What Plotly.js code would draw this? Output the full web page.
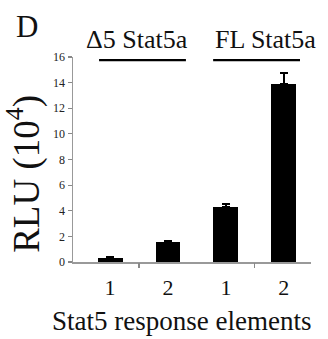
<!DOCTYPE html>
<html><head><meta charset="utf-8">
<script src="https://cdn.plot.ly/plotly-3.0.1.min.js"></script>
<style>html,body{margin:0;padding:0;background:#fff}#chart{width:328px;height:339px}</style>
</head><body><div id="chart"></div>
<script>
// Data
const positions = [0, 1, 2, 3];
const tickLabels = ['1', '2', '1', '2'];
const rluValues = [0.35, 1.55, 4.33, 13.88];
const rluErrors = [0.03, 0.1, 0.2, 0.86];
const groupLabels = ['\u03945 Stat5a', 'FL Stat5a'];
const yTicks = [0, 2, 4, 6, 8, 10, 12, 14, 16];

const serif = 'Liberation Serif';
const trace = {
  type: 'bar', x: positions, y: rluValues, width: 0.43,
  marker: {color: '#000', line: {color: '#000', width: 0}},
  error_y: {type: 'data', array: rluErrors, arrayminus: rluErrors.map(() => 0),
            symmetric: false, color: '#000', thickness: 1.5, width: 4},
  hoverinfo: 'none'
};
const boundary = {type: 'scatter', x: [0.5, 2.5], y: [0, 0], xaxis: 'x2', mode: 'markers',
                  marker: {opacity: 0}, hoverinfo: 'none', showlegend: false};
const layout = {
  width: 328, height: 339,
  font: {family: serif},
  margin: {l: 73, r: 17, t: 57, b: 77},
  paper_bgcolor: '#fff', plot_bgcolor: '#fff',
  showlegend: false,
  bargap: 0,
  xaxis: {range: [-0.64, 3.47], tickvals: positions, ticktext: tickLabels,
          ticks: '', showgrid: false, zeroline: false, showline: true,
          linecolor: '#999', linewidth: 1.5,
          tickfont: {family: serif, size: 22, color: '#111'}, ticklabelstandoff: 5,
          fixedrange: true},
  xaxis2: {overlaying: 'x', range: [-0.64, 3.47], tickvals: [0.5, 2.5], showticklabels: false,
           ticks: 'outside', ticklen: 5, tickwidth: 1.2, tickcolor: '#888',
           showgrid: false, zeroline: false, showline: false, anchor: 'y', side: 'bottom'},
  yaxis: {range: [0, 16], tickvals: yTicks, ticks: 'outside', ticklen: 4, tickwidth: 1.2, tickcolor: '#888',
          showgrid: false, zeroline: false, showline: true, linecolor: '#999', linewidth: 1.5,
          tickfont: {family: serif, size: 12, color: '#222'},
          fixedrange: true},
  shapes: [
    {type: 'line', xref: 'x', yref: 'paper', x0: -0.19, x1: 1.31, y0: 0.985, y1: 0.985, line: {color: '#000', width: 2.2}},
    {type: 'line', xref: 'x', yref: 'paper', x0: 1.78, x1: 3.28, y0: 0.985, y1: 0.985, line: {color: '#000', width: 2.2}}
  ],
  annotations: [
    {text: groupLabels[0], xref: 'x', yref: 'paper', x: 0.46, y: 1.083, yanchor: 'middle', xanchor: 'center', showarrow: false,
     font: {family: serif, size: 26, color: '#111'}},
    {text: groupLabels[1], xref: 'x', yref: 'paper', x: 2.68, y: 1.083, yanchor: 'middle', xanchor: 'center', showarrow: false,
     font: {family: serif, size: 26, color: '#111'}},
    {text: 'D', xref: 'paper', yref: 'paper', x: -0.195, y: 1.15, xanchor: 'center', yanchor: 'middle', showarrow: false,
     font: {family: serif, size: 31, color: '#111'}},
    {text: 'RLU (10<sup>4</sup>)', xref: 'paper', yref: 'paper', x: -0.206, y: 0.43, xanchor: 'center', yanchor: 'middle',
     textangle: -90, showarrow: false, font: {family: serif, size: 37, color: '#111'}},
    {text: 'Stat5 response elements', xref: 'paper', yref: 'paper', x: 0.456, y: -0.29, xanchor: 'center', yanchor: 'middle',
     showarrow: false, font: {family: serif, size: 27, color: '#111'}}
  ]
};
Plotly.newPlot('chart', [trace, boundary], layout, {displayModeBar: false, staticPlot: true});
</script></body></html>
